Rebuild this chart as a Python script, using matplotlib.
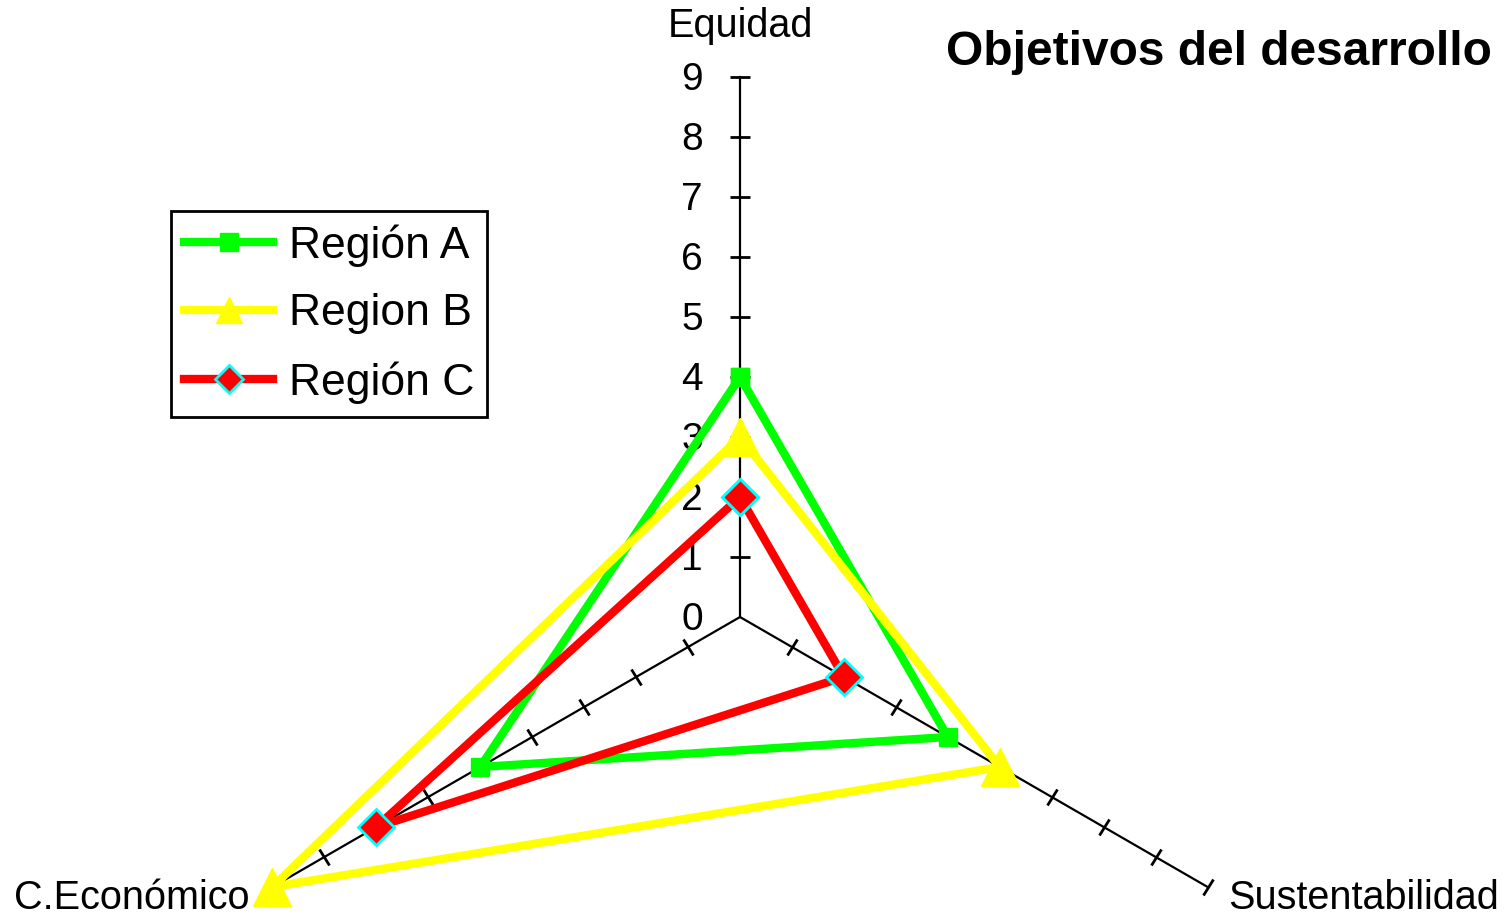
import numpy as np
import matplotlib
matplotlib.use("Agg")
from matplotlib import pyplot as plt
from matplotlib.markers import MarkerStyle
from matplotlib.transforms import Affine2D

categories = ["Equidad", "Sustentabilidad", "C.Económico"]
series_names = ["Región A", "Region B", "Región C"]
region_a = [4, 4, 5]
region_b = [3, 5, 9]
region_c = [2, 2, 7]
scale_ticks = list(range(0, 10))
title = "Objetivos del desarrollo"

plt.rcParams["font.family"] = ["Liberation Sans", "DejaVu Sans"]

fig = plt.figure(figsize=(15.05, 9.16), dpi=100)
# centre of the radar at about (740, 617) px, r=9 -> 540 px
ax = fig.add_axes([0.1329, -0.2631, 0.7176, 1.179], projection="polar")
ax.set_theta_offset(np.pi / 2)
ax.set_theta_direction(-1)
ax.set_ylim(0, scale_ticks[-1])
ax.set_axis_off()

angles = np.arange(len(categories)) * 2 * np.pi / len(categories)

# spokes with crossing tick marks
for ang in angles:
    ax.plot([ang, ang], [0, scale_ticks[-1]], color="black", lw=1.6,
            clip_on=False, zorder=1)
    screen_deg = 90 - np.degrees(ang)
    tick = MarkerStyle("_", transform=Affine2D().rotate_deg(screen_deg + 90))
    ax.plot([ang] * (len(scale_ticks) - 1), scale_ticks[1:], ls="none",
            marker=tick, ms=14, mew=2, color="black", clip_on=False, zorder=1)

# scale labels on the first spoke
for v in scale_ticks:
    ax.annotate(str(v), (0, v), xytext=(-37, -13), textcoords="offset pixels",
                ha="right", va="baseline", fontsize=28)

# category labels
ax.annotate(categories[0], (angles[0], scale_ticks[-1]), xytext=(0, 40),
            textcoords="offset pixels", ha="center", va="baseline", fontsize=28.5)
ax.annotate(categories[1], (angles[1], scale_ticks[-1]), xytext=(21, -22),
            textcoords="offset pixels", ha="left", va="baseline", fontsize=28.5)
ax.annotate(categories[2], (angles[2], scale_ticks[-1]), xytext=(-23, -22),
            textcoords="offset pixels", ha="right", va="baseline", fontsize=28.5)

closed_angles = np.append(angles, angles[0])
styles = [
    dict(color="#00FF00", marker="s", ms=13, mfc="#00FF00", mec="#00FF00", mew=1),
    dict(color="#FFFF00", marker="^", ms=27, mfc="#FFFF00", mec="#FFFF00", mew=1),
    dict(color="#FF0000", marker="D", ms=18, mfc="#FF0000", mec="#00FFFF", mew=2),
]
handles = []
for name, vals, st in zip(series_names, [region_a, region_b, region_c], styles):
    (ln,) = ax.plot(closed_angles, vals + vals[:1], lw=6, clip_on=False,
                    zorder=3, label=name, **st)
    handles.append(ln)

leg = fig.legend(handles, series_names, loc="upper left",
                 bbox_to_anchor=(171 / 1505, 1 - 211 / 916), fontsize=32,
                 frameon=True, fancybox=False, edgecolor="black", framealpha=1,
                 handlelength=2.0, handletextpad=0.35, labelspacing=0.6,
                 borderpad=0.3, borderaxespad=0)
leg.get_frame().set_linewidth(2)
for h, ms in zip(leg.legend_handles, [13, 19, 14]):
    h.set_markersize(ms)

fig.text(1492 / 1505, 1 - 65 / 916, title, ha="right", va="baseline",
         fontsize=34.5, fontweight="bold")

fig.savefig("out.png", dpi=100)
